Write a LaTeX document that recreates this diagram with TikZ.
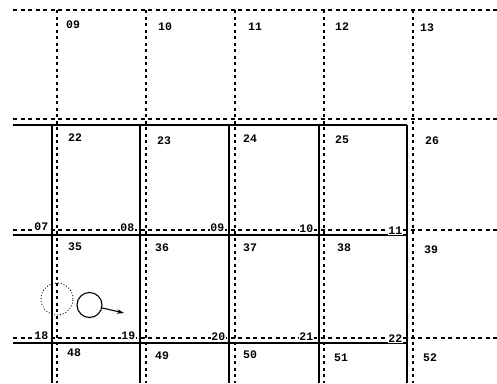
\documentclass[tikz,border=0pt]{standalone}
\usepackage{fontspec}
\setmonofont{Liberation Mono}
\usetikzlibrary{arrows.meta}
\begin{document}
\begin{tikzpicture}[x=1pt,y=-1pt,
  gridline/.style={line width=1.1pt, dash pattern=on 4pt off 3.5pt},
  vgridline/.style={line width=1.1pt, dash pattern=on 3pt off 3.5pt},
  wall/.style={line width=1.2pt},
  cell/.style={anchor=west, inner sep=0pt, font=\fontsize{11.5}{12}\selectfont\ttfamily\bfseries},
  linelabel/.style={anchor=east, inner sep=0.6pt, fill=white, font=\fontsize{11.5}{12}\selectfont\ttfamily\bfseries},
  ghost/.style={circle, draw, dotted, line width=0.9pt, minimum size=32pt, inner sep=0pt},
  ball/.style={circle, draw, line width=1.1pt, minimum size=25pt, inner sep=0pt}]
\useasboundingbox (0,0) rectangle (497,383);
% dashed grid
\foreach \y in {10,119,230,338} \draw[gridline] (13,\y) -- (497,\y);
\foreach \x in {57,146,235,324,413} \draw[vgridline] (\x,10) -- (\x,383);
% solid grid
\foreach \y in {125,235,343} \draw[wall] (13,\y) -- (407,\y);
\foreach \x in {52,140,229,319,407} \draw[wall] (\x,125) -- (\x,383);
% cell labels
\node[cell] (c09) at (66,25) {09};
\node[cell] (c10) at (158,27) {10};
\node[cell] (c11) at (248,27) {11};
\node[cell] (c12) at (335,27) {12};
\node[cell] (c13) at (420,28) {13};
\node[cell] (c22) at (68,138) {22};
\node[cell] (c23) at (157,141) {23};
\node[cell] (c24) at (243,139) {24};
\node[cell] (c25) at (335,140) {25};
\node[cell] (c26) at (425,141) {26};
\node[cell] (c35) at (68,247) {35};
\node[cell] (c36) at (155,248) {36};
\node[cell] (c37) at (243,248) {37};
\node[cell] (c38) at (337,248) {38};
\node[cell] (c39) at (424,250) {39};
\node[cell] (c48) at (67,353) {48};
\node[cell] (c49) at (155,356) {49};
\node[cell] (c50) at (243,355) {50};
\node[cell] (c51) at (334,358) {51};
\node[cell] (c52) at (423,358) {52};
% line labels
\node[linelabel] (m07) at (49,227) {07};
\node[linelabel] (m08) at (135,228) {08};
\node[linelabel] (m09) at (225,228) {09};
\node[linelabel] (m10) at (314,229) {10};
\node[linelabel] (m11) at (403,231) {11};
\node[linelabel] (m18) at (49,336) {18};
\node[linelabel] (m19) at (136,336) {19};
\node[linelabel] (m20) at (226,337) {20};
\node[linelabel] (m21) at (314,337) {21};
\node[linelabel] (m22) at (403,339) {22};
% circles and arrow
\node[ghost] (ghost) at (57,299) {};
\node[ball] (ballA) at (89.5,305) {};
\coordinate (tip) at (124,313);
\draw[line width=1.1pt, -{Stealth[length=7pt,width=4.5pt]}] (ballA) -- (tip);
\end{tikzpicture}
\end{document}
